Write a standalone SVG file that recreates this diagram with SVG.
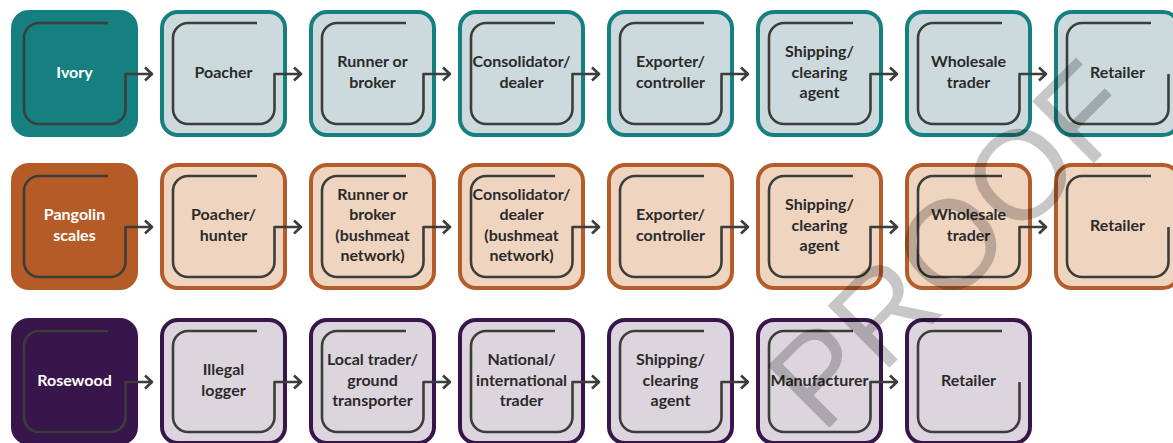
<svg xmlns="http://www.w3.org/2000/svg" xmlns:xlink="http://www.w3.org/1999/xlink" width="1173" height="443" viewBox="0 0 1173 443">
<style>
.lbl{font-family:Lato,"Open Sans","Liberation Sans",sans-serif;font-weight:700;font-size:16px;fill:#2b2b2b;text-anchor:middle}
.wh{fill:#ffffff}
.hdT{fill:#167f80}
.hdR{fill:#b45b27}
.hdP{fill:#38154a}
.bxT{fill:#cddadd;stroke:#167f80;stroke-width:4}
.bxR{fill:#efd4c0;stroke:#b55d2a;stroke-width:4}
.bxP{fill:#ddd5de;stroke:#38154a;stroke-width:4}
.flow{fill:none;stroke:#3b3e3a;stroke-width:2.6;stroke-linejoin:round}
.wm{font-family:"Liberation Sans",Arial,sans-serif;font-size:127px;fill:#000;fill-opacity:0.22}
</style>
<defs>
<path id="flow" d="M97,13 H28 A15,15 0 0 0 13,28 V99 A15,15 0 0 0 28,114 H99.5 A15,15 0 0 0 114.5,99 V64 H141 M134,57.5 L141,64 L134,70.5"/>
<path id="flowEnd" d="M97,13 H28 A15,15 0 0 0 13,28 V99 A15,15 0 0 0 28,114 H99.5 A15,15 0 0 0 114.5,99 V64"/>
</defs>

<!-- Row 1: Ivory -->
<g id="n-ivory"><rect class="hdT" x="11" y="10" width="127" height="127" rx="18"/><text class="lbl wh" x="74.5" y="77.5">Ivory</text></g>
<g id="n-ivory-poacher"><rect class="bxT" x="162" y="12" width="123" height="123" rx="16"/><text class="lbl" x="223.5" y="77.5">Poacher</text></g>
<g id="n-ivory-runner"><rect class="bxT" x="311" y="12" width="123" height="123" rx="16"/><text class="lbl"><tspan x="372.5" y="67.25">Runner or</tspan><tspan x="372.5" y="87.75">broker</tspan></text></g>
<g id="n-ivory-consolidator"><rect class="bxT" x="460" y="12" width="123" height="123" rx="16"/><text class="lbl"><tspan x="521.5" y="67.25">Consolidator/</tspan><tspan x="521.5" y="87.75">dealer</tspan></text></g>
<g id="n-ivory-exporter"><rect class="bxT" x="609" y="12" width="123" height="123" rx="16"/><text class="lbl"><tspan x="670.5" y="67.25">Exporter/</tspan><tspan x="670.5" y="87.75">controller</tspan></text></g>
<g id="n-ivory-shipping"><rect class="bxT" x="758" y="12" width="123" height="123" rx="16"/><text class="lbl"><tspan x="819.5" y="57">Shipping/</tspan><tspan x="819.5" y="77.5">clearing</tspan><tspan x="819.5" y="98">agent</tspan></text></g>
<g id="n-ivory-wholesale"><rect class="bxT" x="907" y="12" width="123" height="123" rx="16"/><text class="lbl"><tspan x="968.5" y="67.25">Wholesale</tspan><tspan x="968.5" y="87.75">trader</tspan></text></g>
<g id="n-ivory-retailer"><rect class="bxT" x="1056" y="12" width="123" height="123" rx="16"/><text class="lbl" x="1117.5" y="77.5">Retailer</text></g>

<!-- Row 2: Pangolin scales -->
<g id="n-pangolin"><rect class="hdR" x="11" y="163" width="127" height="127" rx="18"/><text class="lbl wh"><tspan x="74.5" y="220.25">Pangolin</tspan><tspan x="74.5" y="240.75">scales</tspan></text></g>
<g id="n-pangolin-poacher"><rect class="bxR" x="162" y="165" width="123" height="123" rx="16"/><text class="lbl"><tspan x="223.5" y="220.25">Poacher/</tspan><tspan x="223.5" y="240.75">hunter</tspan></text></g>
<g id="n-pangolin-runner"><rect class="bxR" x="311" y="165" width="123" height="123" rx="16"/><text class="lbl"><tspan x="372.5" y="199.75">Runner or</tspan><tspan x="372.5" y="220.25">broker</tspan><tspan x="372.5" y="240.75">(bushmeat</tspan><tspan x="372.5" y="261.25">network)</tspan></text></g>
<g id="n-pangolin-consolidator"><rect class="bxR" x="460" y="165" width="123" height="123" rx="16"/><text class="lbl"><tspan x="521.5" y="199.75">Consolidator/</tspan><tspan x="521.5" y="220.25">dealer</tspan><tspan x="521.5" y="240.75">(bushmeat</tspan><tspan x="521.5" y="261.25">network)</tspan></text></g>
<g id="n-pangolin-exporter"><rect class="bxR" x="609" y="165" width="123" height="123" rx="16"/><text class="lbl"><tspan x="670.5" y="220.25">Exporter/</tspan><tspan x="670.5" y="240.75">controller</tspan></text></g>
<g id="n-pangolin-shipping"><rect class="bxR" x="758" y="165" width="123" height="123" rx="16"/><text class="lbl"><tspan x="819.5" y="210">Shipping/</tspan><tspan x="819.5" y="230.5">clearing</tspan><tspan x="819.5" y="251">agent</tspan></text></g>
<g id="n-pangolin-wholesale"><rect class="bxR" x="907" y="165" width="123" height="123" rx="16"/><text class="lbl"><tspan x="968.5" y="220.25">Wholesale</tspan><tspan x="968.5" y="240.75">trader</tspan></text></g>
<g id="n-pangolin-retailer"><rect class="bxR" x="1056" y="165" width="123" height="123" rx="16"/><text class="lbl" x="1117.5" y="230.5">Retailer</text></g>

<!-- Row 3: Rosewood -->
<g id="n-rosewood"><rect class="hdP" x="11" y="318" width="127" height="127" rx="18"/><text class="lbl wh" x="74.5" y="385.5">Rosewood</text></g>
<g id="n-rosewood-logger"><rect class="bxP" x="162" y="320" width="123" height="123" rx="16"/><text class="lbl"><tspan x="223.5" y="375.25">Illegal</tspan><tspan x="223.5" y="395.75">logger</tspan></text></g>
<g id="n-rosewood-local"><rect class="bxP" x="311" y="320" width="123" height="123" rx="16"/><text class="lbl"><tspan x="372.5" y="365">Local trader/</tspan><tspan x="372.5" y="385.5">ground</tspan><tspan x="372.5" y="406">transporter</tspan></text></g>
<g id="n-rosewood-national"><rect class="bxP" x="460" y="320" width="123" height="123" rx="16"/><text class="lbl"><tspan x="521.5" y="365">National/</tspan><tspan x="521.5" y="385.5">international</tspan><tspan x="521.5" y="406">trader</tspan></text></g>
<g id="n-rosewood-shipping"><rect class="bxP" x="609" y="320" width="123" height="123" rx="16"/><text class="lbl"><tspan x="670.5" y="365">Shipping/</tspan><tspan x="670.5" y="385.5">clearing</tspan><tspan x="670.5" y="406">agent</tspan></text></g>
<g id="n-rosewood-manufacturer"><rect class="bxP" x="758" y="320" width="123" height="123" rx="16"/><text class="lbl" x="819.5" y="385.5">Manufacturer</text></g>
<g id="n-rosewood-retailer"><rect class="bxP" x="907" y="320" width="123" height="123" rx="16"/><text class="lbl" x="968.5" y="385.5">Retailer</text></g>

<g id="connectors" class="flow">
<use xlink:href="#flow" x="11" y="10"/><use xlink:href="#flow" x="160" y="10"/><use xlink:href="#flow" x="309" y="10"/><use xlink:href="#flow" x="458" y="10"/><use xlink:href="#flow" x="607" y="10"/><use xlink:href="#flow" x="756" y="10"/><use xlink:href="#flow" x="905" y="10"/><use xlink:href="#flowEnd" x="1054" y="10"/>
<use xlink:href="#flow" x="11" y="163"/><use xlink:href="#flow" x="160" y="163"/><use xlink:href="#flow" x="309" y="163"/><use xlink:href="#flow" x="458" y="163"/><use xlink:href="#flow" x="607" y="163"/><use xlink:href="#flow" x="756" y="163"/><use xlink:href="#flow" x="905" y="163"/><use xlink:href="#flowEnd" x="1054" y="163"/>
<use xlink:href="#flow" x="11" y="318"/><use xlink:href="#flow" x="160" y="318"/><use xlink:href="#flow" x="309" y="318"/><use xlink:href="#flow" x="458" y="318"/><use xlink:href="#flow" x="607" y="318"/><use xlink:href="#flow" x="756" y="318"/><use xlink:href="#flowEnd" x="905" y="318"/>
</g>

<text class="wm" transform="translate(822,435) rotate(-45)">PROOF</text>
</svg>
